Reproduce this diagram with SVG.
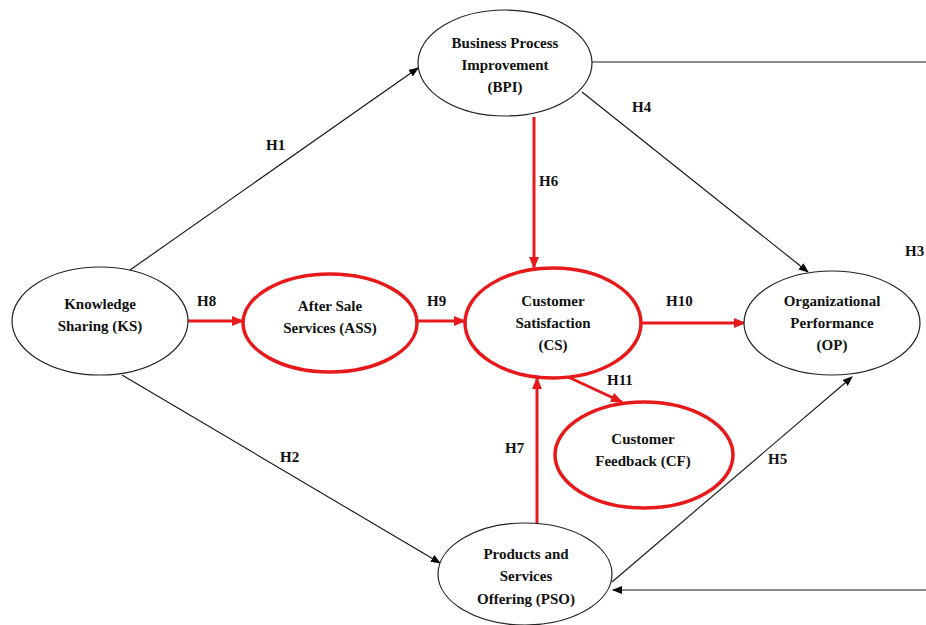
<svg xmlns="http://www.w3.org/2000/svg" width="926" height="625" viewBox="0 0 926 625">
<defs>
<marker id="ab" markerWidth="10" markerHeight="8" refX="9" refY="4" orient="auto" markerUnits="userSpaceOnUse"><path d="M0,0 L10,4 L0,8 Z" fill="#000"/></marker>
<marker id="ar" markerWidth="12" markerHeight="10" refX="11" refY="5" orient="auto" markerUnits="userSpaceOnUse"><path d="M0,0 L12,5 L0,10 Z" fill="#e8191b"/></marker>
</defs>
<style>
.b{fill:#fff;stroke:#222;stroke-width:1.2}
.r{fill:#fff;stroke:#e8191b;stroke-width:3.5}
text{font-family:'Liberation Serif','DejaVu Serif',serif;font-weight:bold;font-size:15px;fill:#111}
.t{text-anchor:middle}
.cb{stroke:#111;stroke-width:1.1;fill:none}
.cg{stroke:#666;stroke-width:1.6;fill:none}
.cr{stroke:#e8191b;stroke-width:3;fill:none}
</style>
<rect width="926" height="625" fill="#fff"/>
<g id="connectors">
<line class="cb" x1="130" y1="270" x2="418" y2="68" marker-end="url(#ab)"/>
<line class="cb" x1="122" y1="375" x2="440" y2="563" marker-end="url(#ab)"/>
<line class="cb" x1="582" y1="92" x2="808" y2="272" marker-end="url(#ab)"/>
<line class="cb" x1="612" y1="582" x2="852" y2="377" marker-end="url(#ab)"/>
<line class="cg" x1="592" y1="62" x2="926" y2="62"/>
<line class="cg" x1="926" y1="590" x2="613" y2="590" marker-end="url(#ab)"/>
<line class="cr" x1="188" y1="321" x2="243" y2="321" marker-end="url(#ar)"/>
<line class="cr" x1="418" y1="321" x2="465" y2="321" marker-end="url(#ar)"/>
<line class="cr" x1="641" y1="323" x2="745" y2="323" marker-end="url(#ar)"/>
<line class="cr" x1="534" y1="117" x2="534" y2="268" marker-end="url(#ar)"/>
<line class="cr" x1="537" y1="523" x2="537" y2="378" marker-end="url(#ar)"/>
<line class="cr" x1="566" y1="376" x2="622" y2="402" marker-end="url(#ar)"/>
<text x="266" y="150">H1</text>
<text x="280" y="462">H2</text>
<text x="905" y="256">H3</text>
<text x="632" y="112">H4</text>
<text x="768" y="464">H5</text>
<text x="539" y="186">H6</text>
<text x="505" y="453">H7</text>
<text x="197" y="306">H8</text>
<text x="427" y="306">H9</text>
<text x="666" y="306">H10</text>
<text x="607" y="385">H11</text>
</g>
<g id="BPI"><ellipse class="b" cx="505" cy="63" rx="87" ry="53"/><text class="t" x="505" y="48">Business Process</text><text class="t" x="505" y="70">Improvement</text><text class="t" x="505" y="92">(BPI)</text></g>
<g id="KS"><ellipse class="b" cx="100" cy="321" rx="88" ry="54"/><text class="t" x="100" y="309">Knowledge</text><text class="t" x="100" y="331">Sharing (KS)</text></g>
<g id="ASS"><ellipse class="r" cx="330" cy="323" rx="87" ry="49"/><text class="t" x="330" y="311">After Sale</text><text class="t" x="330" y="333">Services (ASS)</text></g>
<g id="CS"><ellipse class="r" cx="553" cy="323" rx="88" ry="55"/><text class="t" x="553" y="306">Customer</text><text class="t" x="553" y="328">Satisfaction</text><text class="t" x="553" y="350">(CS)</text></g>
<g id="OP"><ellipse class="b" cx="832" cy="323" rx="88" ry="52"/><text class="t" x="832" y="306">Organizational</text><text class="t" x="832" y="328">Performance</text><text class="t" x="832" y="350">(OP)</text></g>
<g id="CF"><ellipse class="r" cx="644" cy="455" rx="89" ry="53"/><text class="t" x="643" y="444">Customer</text><text class="t" x="643" y="466">Feedback (CF)</text></g>
<g id="PSO"><ellipse class="b" cx="525" cy="574" rx="87" ry="51"/><text class="t" x="526" y="559">Products and</text><text class="t" x="526" y="581">Services</text><text class="t" x="526" y="604">Offering (PSO)</text></g>
</svg>
